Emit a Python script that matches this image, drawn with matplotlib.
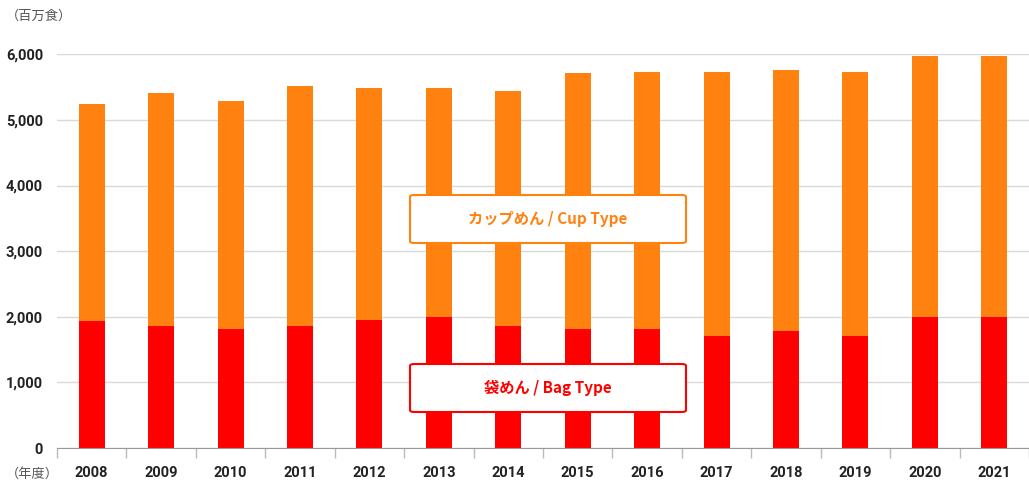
import numpy as np
import matplotlib.pyplot as plt
from matplotlib.patches import FancyBboxPatch
from matplotlib.ticker import FuncFormatter, FixedLocator

plt.rcParams['font.family'] = ['Roboto', 'Noto Sans CJK JP', 'DejaVu Sans']

# data (million servings)
years = ['2008', '2009', '2010', '2011', '2012', '2013', '2014',
         '2015', '2016', '2017', '2018', '2019', '2020', '2021']
bag = [1940, 1860, 1810, 1860, 1950, 2000, 1860,
       1810, 1810, 1710, 1780, 1710, 2000, 2000]
total = [5240, 5410, 5290, 5520, 5490, 5490, 5440,
         5710, 5730, 5730, 5760, 5730, 5970, 5970]
cup = [t - b for t, b in zip(total, bag)]

orange = '#ff8210'
red = '#ff0000'
W, H = 1029, 484

fig = plt.figure(figsize=(W / 100, H / 100), dpi=100)
ax = fig.add_axes([57 / W, 1 - 448 / H, 1 - 57 / W, (448 - 54.3) / H])

x = np.arange(len(years))
ax.bar(x, bag, width=0.375, color=red, zorder=3)
ax.bar(x, cup, width=0.375, bottom=bag, color=orange, zorder=3)

ax.set_xlim(-0.5, len(years) - 0.5)
ax.set_ylim(0, 6000)
ax.set_yticks(range(0, 6001, 1000))
ax.yaxis.set_major_formatter(FuncFormatter(lambda v, p: f'{int(v):,}'))
ax.grid(axis='y', color='#d9d9d9', linewidth=1, zorder=0)

ax.set_xticks(x)
ax.set_xticklabels(years)
ax.xaxis.set_minor_locator(FixedLocator(np.arange(-0.5, len(years), 1)))
ax.tick_params(axis='x', which='major', length=0, pad=13)
ax.tick_params(axis='x', which='minor', length=7, color='#bbbbbb', width=1)
ax.tick_params(axis='y', length=0, pad=10)
for lab in ax.get_xticklabels() + ax.get_yticklabels():
    lab.set_fontweight('bold')
    lab.set_fontsize(10.5)
    lab.set_color('#222222')

for s in ['top', 'right', 'left']:
    ax.spines[s].set_visible(False)
ax.spines['bottom'].set_color('#999999')
ax.spines['bottom'].set_zorder(4)

# units
fig.text(6 / W, 1 - 16 / H, '（百万食）', fontsize=9.5, color='#555555',
         va='center', ha='left', family=['Noto Sans CJK JP'])
fig.text(6 / W, 1 - 474 / H, '（年度）', fontsize=9.5, color='#555555',
         va='center', ha='left', family=['Noto Sans CJK JP'])


# series label boxes (pixel positions of the boxes)
def label_box(text, color, x0, y0, x1, y1):
    box = FancyBboxPatch((x0 / W, 1 - y1 / H), (x1 - x0) / W, (y1 - y0) / H,
                         boxstyle='round,pad=0,rounding_size=0.004',
                         transform=fig.transFigure, fc='white', ec=color,
                         lw=1.5, zorder=5)
    fig.add_artist(box)
    fig.text((x0 + x1) / 2 / W, 1 - (y0 + y1) / 2 / H, text, ha='center',
             va='center', fontsize=11, fontweight='bold', color=color,
             family=['Noto Sans CJK JP'], zorder=6)


label_box('カップめん / Cup Type', orange, 410, 195, 686, 243)
label_box('袋めん / Bag Type', red, 410, 364, 686, 412)

fig.savefig('out.png', dpi=100)
